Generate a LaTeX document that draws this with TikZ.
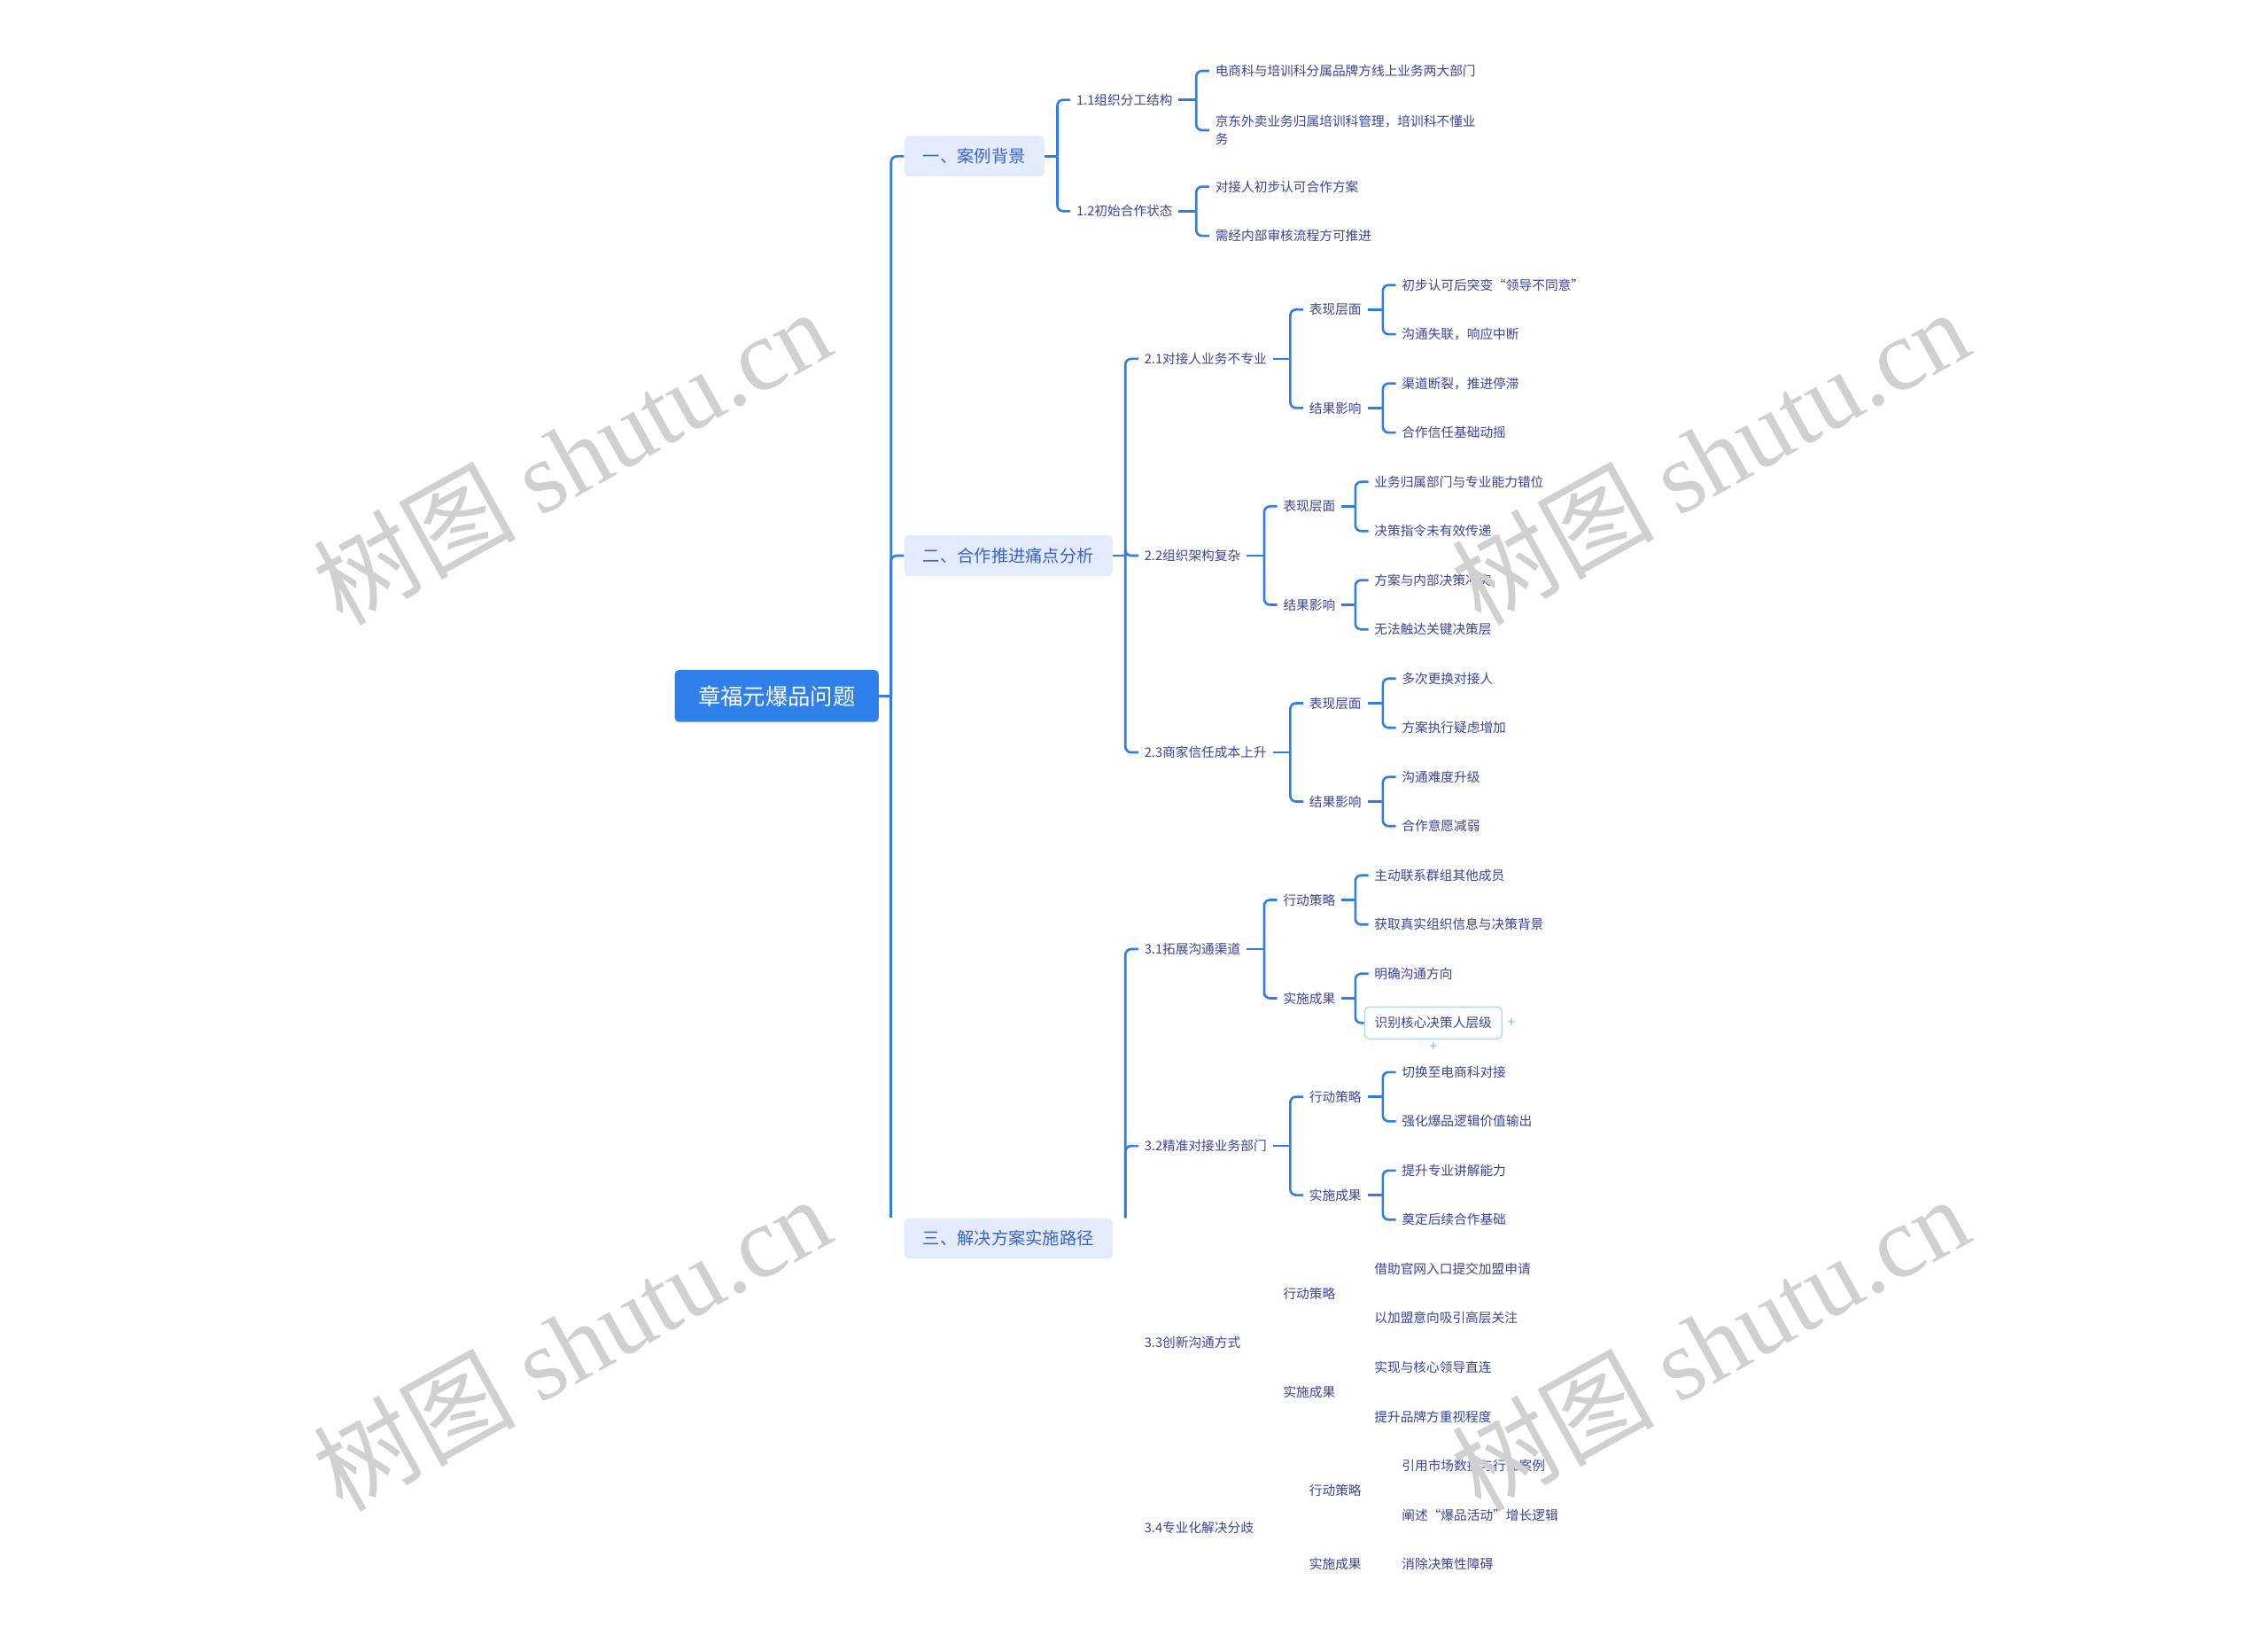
\documentclass[tikz,border=0pt]{standalone}
\usepackage{fontspec}
\setmainfont{Noto Sans CJK SC}
\newfontfamily\wmserif{Liberation Serif}
\usetikzlibrary{calc}

\definecolor{linkblue}{HTML}{2F7CEA}
\definecolor{rootblue}{HTML}{3080EC}
\definecolor{topicfill}{HTML}{E3EBFD}
\definecolor{topictext}{HTML}{3B63CC}
\definecolor{leaftext}{HTML}{39449A}
\definecolor{selblue}{HTML}{A8D8F8}
\definecolor{plusblue}{HTML}{7CC0F0}
\definecolor{wmgray}{HTML}{D0D0D0}

\tikzset{
  link/.style={draw=linkblue, line width=1.6pt, rounded corners=4pt},
  root/.style={fill=rootblue, text=white, rounded corners=3pt, minimum width=141pt, minimum height=36pt, font=\fontsize{15.5}{18}\selectfont},
  topic/.style={anchor=west, fill=topicfill, text=topictext, rounded corners=3pt, minimum height=28pt, inner xsep=13pt, font=\fontsize{11.8}{14}\selectfont},
  item/.style={anchor=west, inner xsep=4pt, inner ysep=1pt, text=leaftext, font=\fontsize{9}{12}\selectfont},
  picked/.style={item, draw=selblue, line width=0.8pt, rounded corners=3pt, minimum height=22pt, inner xsep=7pt},
  plus/.style={text=plusblue, font=\fontsize{10}{10}\selectfont, inner sep=0pt},
  wmark/.style={text=wmgray, rotate=29, font=\fontsize{70}{70}\selectfont},
}

% parent, first child, all children
\newcommand\fork[3]{%
  \path (#2.west) ++(-9,0) coordinate (#1-x);
  \draw[link] (#1.east) -- (#1.east -| #1-x) coordinate (#1-j);
  \foreach \kid in {#3} {\draw[link] (#1-j) |- (\kid.west);}
}

\begin{document}
\begin{tikzpicture}[x=1pt, y=-1pt]
	\useasboundingbox (0,0) rectangle (1568,1130);

	% root and topics
	\node[root] (r) at (537,481) {章福元爆品问题};
	\node[topic] (t1) at (625,108) {一、案例背景};
	\node[topic] (t2) at (625,384) {二、合作推进痛点分析};
	\node[topic] (t3) at (625,856) {三、解决方案实施路径};

	% 一
	\node[item] (s11) at (740,69) {1.1组织分工结构};
	\node[item] (s12) at (740,146) {1.2初始合作状态};
	\node[item] (s11a) at (836,49) {电商科与培训科分属品牌方线上业务两大部门};
	\node[item, align=left] (s11b) at (836,90) {京东外卖业务归属培训科管理，培训科不懂业\\务};
	\node[item] (s12a) at (836,129) {对接人初步认可合作方案};
	\node[item] (s12b) at (836,163) {需经内部审核流程方可推进};

	% 二
	\node[item] (s21) at (787,248) {2.1对接人业务不专业};
	\node[item] (s22) at (787,384) {2.2组织架构复杂};
	\node[item] (s23) at (787,520) {2.3商家信任成本上升};

	\node[item] (s21p) at (901,214) {表现层面};
	\node[item] (s21r) at (901,282) {结果影响};
	\node[item] (s21p1) at (965,197) {初步认可后突变“领导不同意”};
	\node[item] (s21p2) at (965,231) {沟通失联，响应中断};
	\node[item] (s21r1) at (965,265) {渠道断裂，推进停滞};
	\node[item] (s21r2) at (965,299) {合作信任基础动摇};

	\node[item] (s22p) at (883,350) {表现层面};
	\node[item] (s22r) at (883,418) {结果影响};
	\node[item] (s22p1) at (946,333) {业务归属部门与专业能力错位};
	\node[item] (s22p2) at (946,367) {决策指令未有效传递};
	\node[item] (s22r1) at (946,401) {方案与内部决策冲突};
	\node[item] (s22r2) at (946,435) {无法触达关键决策层};

	\node[item] (s23p) at (901,486) {表现层面};
	\node[item] (s23r) at (901,554) {结果影响};
	\node[item] (s23p1) at (965,469) {多次更换对接人};
	\node[item] (s23p2) at (965,503) {方案执行疑虑增加};
	\node[item] (s23r1) at (965,537) {沟通难度升级};
	\node[item] (s23r2) at (965,571) {合作意愿减弱};

	% 三
	\node[item] (s31) at (787,656) {3.1拓展沟通渠道};
	\node[item] (s32) at (787,792) {3.2精准对接业务部门};
	\node[item] (s33) at (787,928) {3.3创新沟通方式};
	\node[item] (s34) at (787,1056) {3.4专业化解决分歧};

	\node[item] (s31a) at (883,622) {行动策略};
	\node[item] (s31b) at (883,690) {实施成果};
	\node[item] (s31a1) at (946,605) {主动联系群组其他成员};
	\node[item] (s31a2) at (946,639) {获取真实组织信息与决策背景};
	\node[item] (s31b1) at (946,673) {明确沟通方向};
	\node[picked] (s31b2) at (943,707) {识别核心决策人层级};
	\node[plus] (pk-r) at ($(s31b2.east)+(6,0)$) {+};
	\node[plus] (pk-b) at ($(s31b2.south)+(0,5)$) {+};

	\node[item] (s32a) at (901,758) {行动策略};
	\node[item] (s32b) at (901,826) {实施成果};
	\node[item] (s32a1) at (965,741) {切换至电商科对接};
	\node[item] (s32a2) at (965,775) {强化爆品逻辑价值输出};
	\node[item] (s32b1) at (965,809) {提升专业讲解能力};
	\node[item] (s32b2) at (965,843) {奠定后续合作基础};

	\node[item] (s33a) at (883,894) {行动策略};
	\node[item] (s33b) at (883,962) {实施成果};
	\node[item] (s33a1) at (946,877) {借助官网入口提交加盟申请};
	\node[item] (s33a2) at (946,911) {以加盟意向吸引高层关注};
	\node[item] (s33b1) at (946,945) {实现与核心领导直连};
	\node[item] (s33b2) at (946,979) {提升品牌方重视程度};

	\node[item] (s34a) at (901,1030) {行动策略};
	\node[item] (s34b) at (901,1081) {实施成果};
	\node[item] (s34a1) at (965,1013) {引用市场数据与行业案例};
	\node[item] (s34a2) at (965,1047) {阐述“爆品活动”增长逻辑};
	\node[item] (s34b1) at (965,1081) {消除决策性障碍};

	% connectors
	\fork{r}{t1}{t1,t2}
	\draw[link] (r-j) -- (r-j |- t3.north);
	\fork{t1}{s11}{s11,s12}
	\fork{s11}{s11a}{s11a,s11b}
	\fork{s12}{s12a}{s12a,s12b}

	\fork{t2}{s21}{s21,s22,s23}
	\fork{s21}{s21p}{s21p,s21r}
	\fork{s21p}{s21p1}{s21p1,s21p2}
	\fork{s21r}{s21r1}{s21r1,s21r2}
	\fork{s22}{s22p}{s22p,s22r}
	\fork{s22p}{s22p1}{s22p1,s22p2}
	\fork{s22r}{s22r1}{s22r1,s22r2}
	\fork{s23}{s23p}{s23p,s23r}
	\fork{s23p}{s23p1}{s23p1,s23p2}
	\fork{s23r}{s23r1}{s23r1,s23r2}

	\path (s31.west) ++(-9,0) coordinate (t3-x);
	\draw[link] (t3-x |- t3.north) |- (s31.west);
	\draw[link] (t3-x |- t3.north) |- (s32.west);
	\fork{s31}{s31a}{s31a,s31b}
	\fork{s31a}{s31a1}{s31a1,s31a2}
	\fork{s31b}{s31b1}{s31b1,s31b2}
	\fork{s32}{s32a}{s32a,s32b}
	\fork{s32a}{s32a1}{s32a1,s32a2}
	\fork{s32b}{s32b1}{s32b1,s32b2}

	% watermarks
	\node[wmark] (wm1) at (395,315) {树图 {\wmserif shutu.cn}};
	\node[wmark] (wm2) at (1182,315) {树图 {\wmserif shutu.cn}};
	\node[wmark] (wm3) at (395,928) {树图 {\wmserif shutu.cn}};
	\node[wmark] (wm4) at (1182,928) {树图 {\wmserif shutu.cn}};
\end{tikzpicture}
\end{document}
